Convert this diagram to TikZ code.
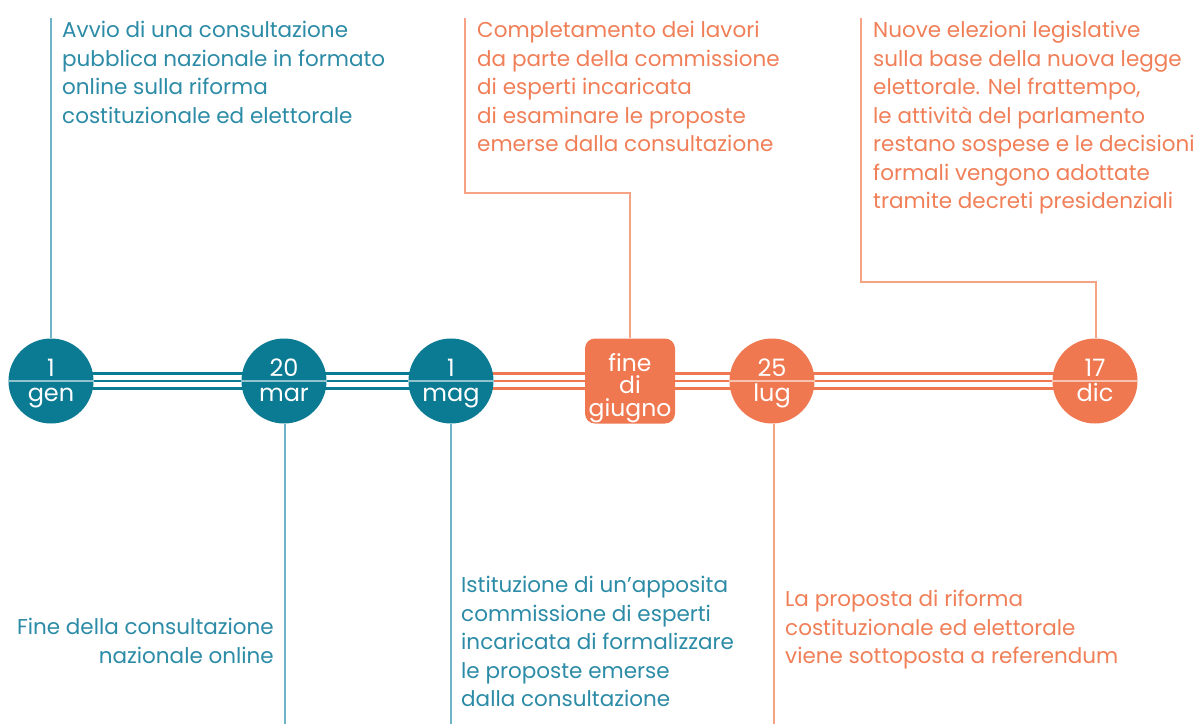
\documentclass[tikz,border=0pt]{standalone}
\usepackage{fontspec}
\setmainfont{Poppins}
\usetikzlibrary{backgrounds}
\definecolor{tealc}{HTML}{0B7A93}
\definecolor{tealt}{HTML}{2C8BA6}
\definecolor{teall}{HTML}{6DB4C8}
\definecolor{orc}{HTML}{F07850}
\definecolor{ort}{HTML}{F07F58}
\definecolor{orl}{HTML}{F6A385}
\tikzset{
  x=1pt,y=-1pt,
  dot/.style={circle,minimum size=85pt,inner sep=0pt},
  tdot/.style={dot,fill=tealc},
  odot/.style={dot,fill=orc},
  datetxt/.style={text=white,font=\fontsize{24}{24}\selectfont,inner sep=0pt,anchor=base},
  divider/.style={draw=white!55!#1,line width=1.3pt},
  rail/.style={line width=2.2pt},
  lead/.style={line width=1.5pt},
  desc/.style={inner sep=0pt,font=\fontsize{21.5}{28.5}\selectfont,align=left},
}
\begin{document}
\begin{tikzpicture}
\useasboundingbox (0,0) rectangle (1203,724);
% date markers
\node[tdot] (c1) at (51,381) {};
\node[tdot] (c2) at (284,381) {};
\node[tdot] (c3) at (451,381) {};
\node[fill=orc,rounded corners=10pt,minimum width=90pt,minimum height=85pt,inner sep=0pt] (c4) at (630,381) {};
\node[odot] (c5) at (772,381) {};
\node[odot] (c6) at (1095,381) {};
\draw[divider=tealc] (c1.west) -- (c1.east);
\draw[divider=tealc] (c2.west) -- (c2.east);
\draw[divider=tealc] (c3.west) -- (c3.east);
\draw[divider=orc] (c5.west) -- (c5.east);
\draw[divider=orc] (c6.west) -- (c6.east);
\node[datetxt] (d1a) at (51,376) {1};
\node[datetxt] (d1b) at (51,401) {gen};
\node[datetxt] (d2a) at (284,376) {20};
\node[datetxt] (d2b) at (284,401) {mar};
\node[datetxt] (d3a) at (451,376) {1};
\node[datetxt] (d3b) at (451,401) {mag};
\node[datetxt,anchor=north,align=center,font=\fontsize{23.5}{22.5}\selectfont] (d4) at (630,353) {fine\\di\\giugno};
\node[datetxt] (d5a) at (772,376) {25};
\node[datetxt] (d5b) at (772,401) {lug};
\node[datetxt] (d6a) at (1095,376) {17};
\node[datetxt] (d6b) at (1095,401) {dic};
% rails
\begin{scope}[on background layer]
\foreach \a/\b/\c in {c1/c2/tealc,c2/c3/tealc,c3/c4/orc,c4/c5/orc,c5/c6/orc}{
  \foreach \s in {-7.5,0,7.5}{
    \draw[rail,\c] ([yshift=\s pt]\a.center) -- ([yshift=\s pt]\b.center);
  }
}
\end{scope}
% leader lines and descriptions
\coordinate (e1) at (51,18);
\draw[lead,teall] (c1.north) -- (e1);
\node[desc,text=tealt,anchor=north west] (t1) at (62,21) {Avvio di una consultazione\\pubblica nazionale in formato\\online sulla riforma\\costituzionale ed elettorale};

\coordinate (e2) at (285,724);
\draw[lead,teall] (c2.south) ++(1,0) -- (e2);
\node[desc,text=tealt,anchor=north east,align=right] (t2) at (274,618) {Fine della consultazione\\nazionale online};

\coordinate (e3) at (451,724);
\draw[lead,teall] (c3.south) -- (e3);
\node[desc,text=tealt,anchor=north west] (t3) at (461,576) {Istituzione di un'apposita\\commissione di esperti\\incaricata di formalizzare\\le proposte emerse\\dalla consultazione};

\coordinate (e4) at (465,18);
\draw[lead,orl] (c4.north) |- (465,193) -- (e4);
\node[desc,text=ort,anchor=north west] (t4) at (477,21) {Completamento dei lavori\\da parte della commissione\\di esperti incaricata\\di esaminare le proposte\\emerse dalla consultazione};

\coordinate (e5) at (774,724);
\draw[lead,orl] (c5.south) ++(2,0) -- (e5);
\node[desc,text=ort,anchor=north west] (t5) at (785,590) {La proposta di riforma\\costituzionale ed elettorale\\viene sottoposta a referendum};

\coordinate (e6) at (861,18);
\draw[lead,orl] (c6.north) ++(1,0) |- (861,282) -- (e6);
\node[desc,text=ort,anchor=north west] (t6) at (873,21) {Nuove elezioni legislative\\sulla base della nuova legge\\elettorale. Nel frattempo,\\le attività del parlamento\\restano sospese e le decisioni\\formali vengono adottate\\tramite decreti presidenziali};
\end{tikzpicture}
\end{document}
